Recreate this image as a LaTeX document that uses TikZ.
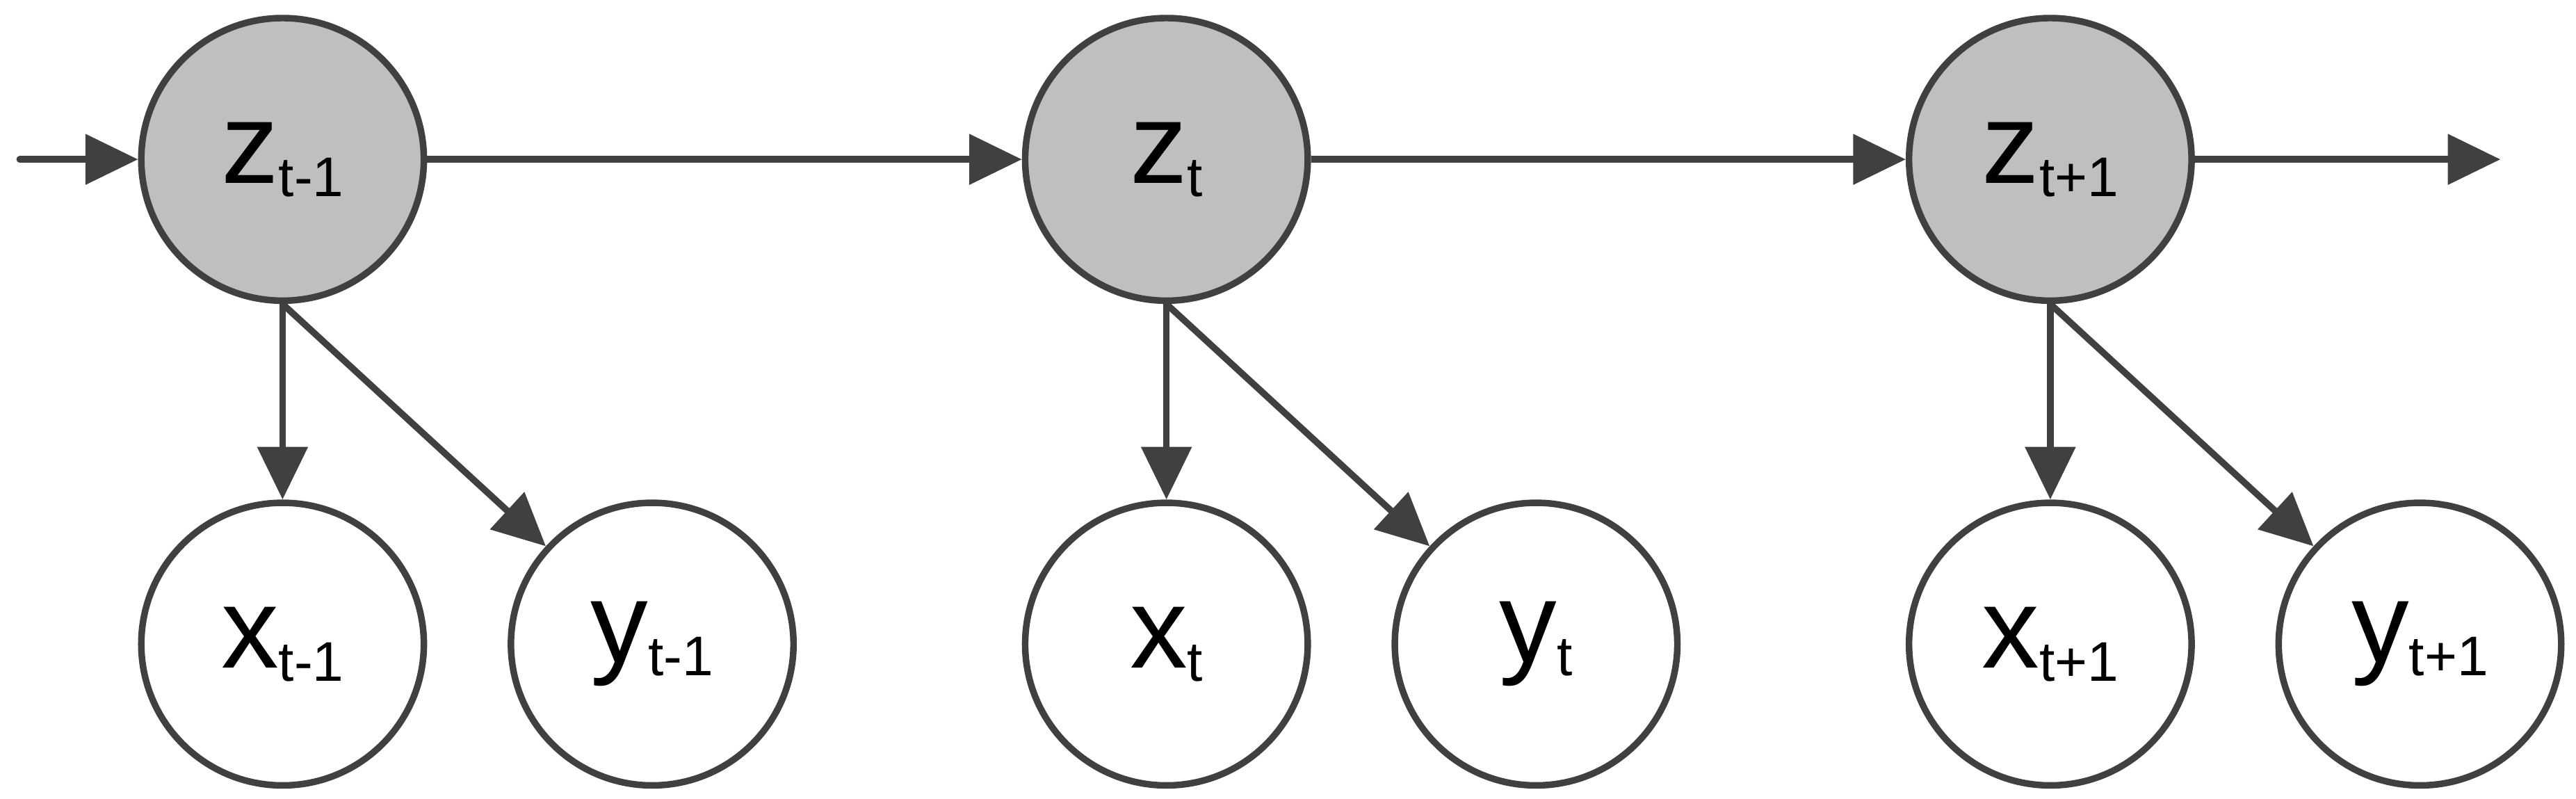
\documentclass[tikz,border=0pt]{standalone}
\usepackage{fontspec}
\setmainfont{Liberation Sans}
\usetikzlibrary{arrows.meta}
\begin{document}
\begin{tikzpicture}[x=1pt,y=-1pt,
  var/.style={circle,draw=black!75,line width=4pt,minimum size=172pt,inner sep=0pt,font=\fontsize{70}{70}\selectfont},
  hid/.style={var,fill=black!25},
  arr/.style={draw=black!75,line width=4pt,-{Triangle[length=32pt,width=30pt]}}]
\useasboundingbox (0,0) rectangle (1568,486);
\node[hid] (z1) at (172,97) {z\raisebox{-8pt}{\fontsize{34}{34}\selectfont t-1}};
\node[hid] (z2) at (710,97) {z\raisebox{-8pt}{\fontsize{34}{34}\selectfont t}};
\node[hid] (z3) at (1248,97) {z\raisebox{-8pt}{\fontsize{34}{34}\selectfont t+1}};
\node[var] (x1) at (172,392) {x\raisebox{-8pt}{\fontsize{34}{34}\selectfont t-1}};
\node[var] (x2) at (710,392) {x\raisebox{-8pt}{\fontsize{34}{34}\selectfont t}};
\node[var] (x3) at (1248,392) {x\raisebox{-8pt}{\fontsize{34}{34}\selectfont t+1}};
\node[var] (y1) at (397,392) {y\raisebox{-8pt}{\fontsize{34}{34}\selectfont t-1}};
\node[var] (y2) at (935,392) {y\raisebox{-8pt}{\fontsize{34}{34}\selectfont t}};
\node[var] (y3) at (1473,392) {y\raisebox{-8pt}{\fontsize{34}{34}\selectfont t+1}};
\coordinate (in) at (12,97);
\coordinate (out) at (1522,97);
\draw[arr,line cap=round] (in) -- (z1);
\draw[arr] (z1) -- (z2);
\draw[arr] (z2) -- (z3);
\draw[arr] (z3) -- (out);
\foreach \i in {1,2,3}{
  \draw[arr] (z\i) -- (x\i);
  \draw[arr] (z\i.south) -- (y\i);
}
\end{tikzpicture}
\end{document}
